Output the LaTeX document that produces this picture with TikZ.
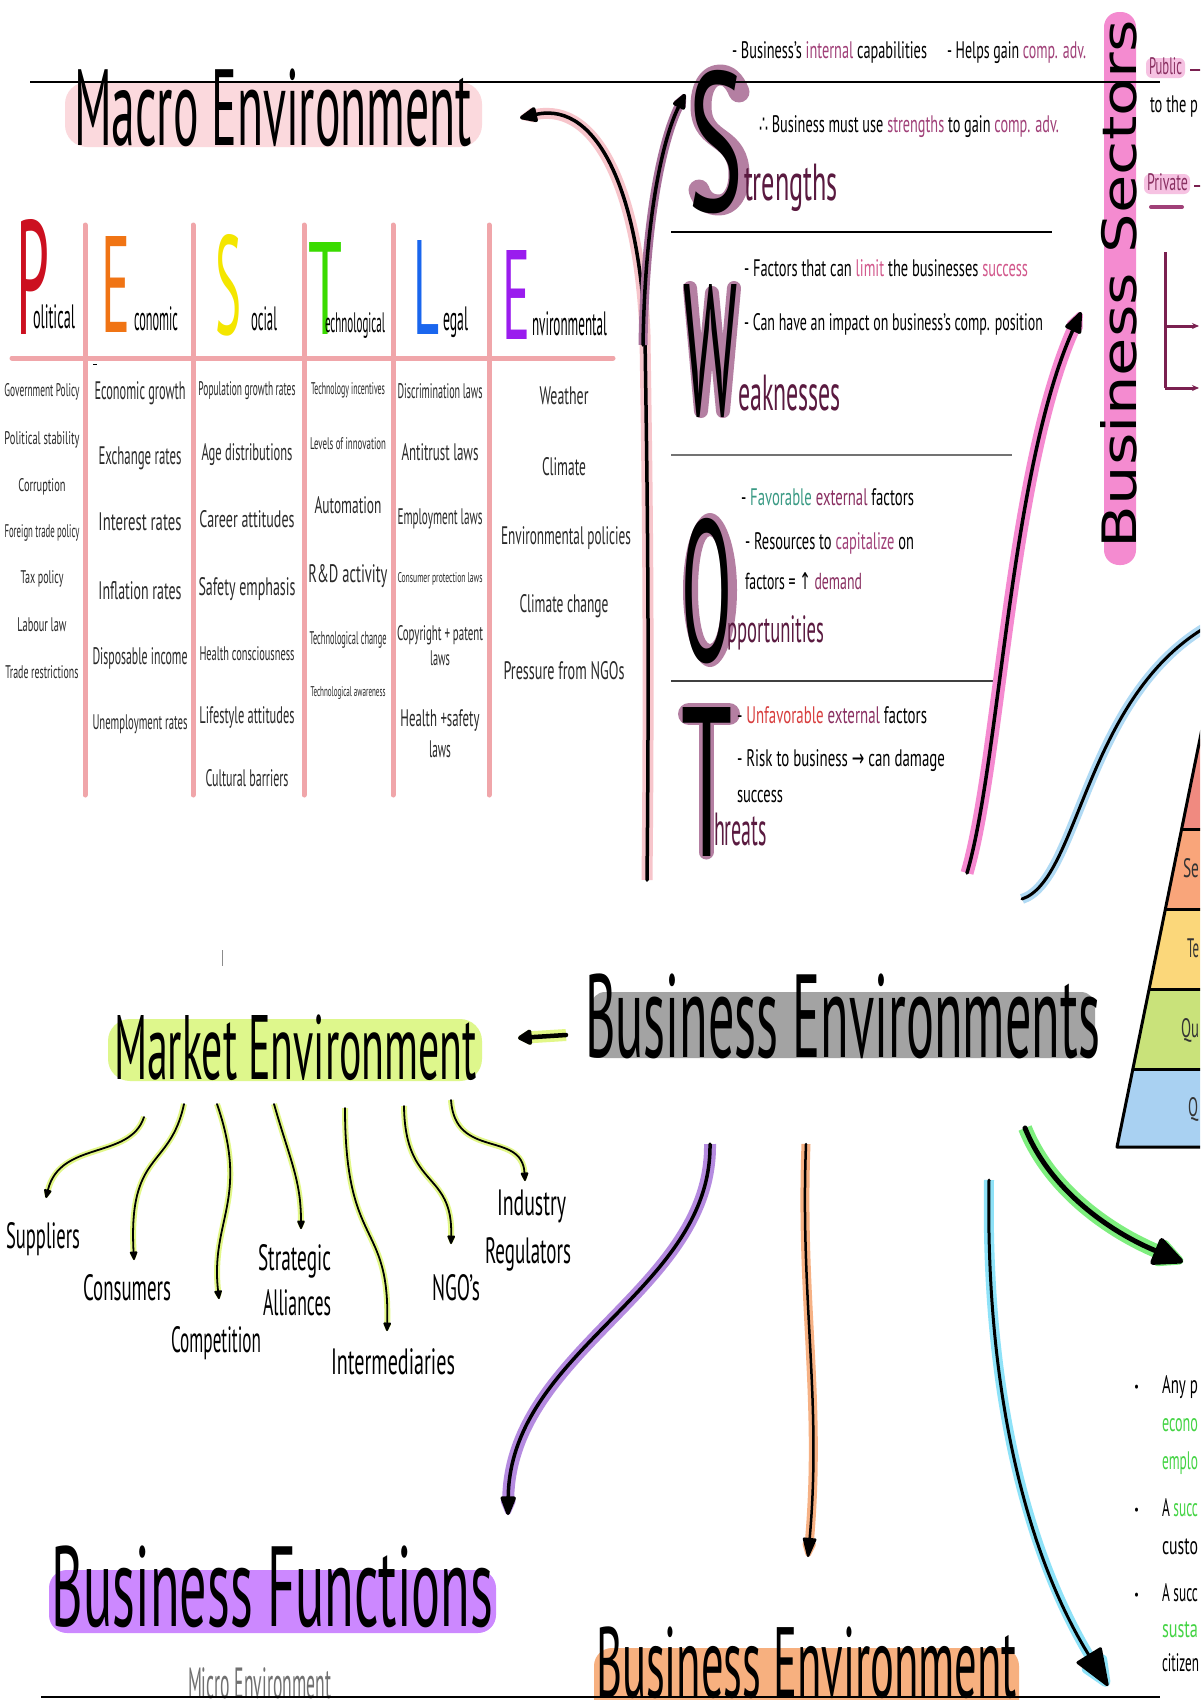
\documentclass[tikz,border=0pt]{standalone}
\usepackage{fontspec}
\usepackage{graphicx}
\setmainfont{PT Sans}
\newfontfamily\geo{DejaVu Sans}
\usetikzlibrary{arrows.meta}
\definecolor{cMacroHL}{HTML}{FBD9DD}
\definecolor{cPest}{HTML}{F0A6AA}
\definecolor{cP}{HTML}{CC1020}
\definecolor{cE}{HTML}{F07414}
\definecolor{cS}{HTML}{F4E600}
\definecolor{cT}{HTML}{3ADB00}
\definecolor{cL}{HTML}{1A66EE}
\definecolor{cV}{HTML}{9A1CEE}
\definecolor{cTxt}{HTML}{2A2A2A}
\definecolor{mauve}{HTML}{B47FA2}
\definecolor{cDark}{HTML}{5A1A40}
\definecolor{cInt}{HTML}{A04078}
\definecolor{cPink}{HTML}{D2588C}
\definecolor{cTeal}{HTML}{3A9A84}
\definecolor{cExt}{HTML}{8A3062}
\definecolor{cRed}{HTML}{D83E3E}
\definecolor{cSect}{HTML}{F48BD0}
\definecolor{cPubHL}{HTML}{F6C2E2}
\definecolor{cTree}{HTML}{7A2050}
\definecolor{cGray}{HTML}{A3A3A3}
\definecolor{cYGHL}{HTML}{DEF78C}
\definecolor{cYG}{HTML}{E2F788}
\definecolor{cPurHL}{HTML}{CC88FF}
\definecolor{cOrHL}{HTML}{F7B07F}
\definecolor{cMicro}{HTML}{707070}
\definecolor{cMacroHalo}{HTML}{F7C5CB}
\definecolor{cSHalo}{HTML}{A8709A}
\definecolor{cPinkHalo}{HTML}{F58AD0}
\definecolor{cBlueHalo}{HTML}{B0DAF4}
\definecolor{cGreenHalo}{HTML}{7EEE7E}
\definecolor{cCyanHalo}{HTML}{8EE2F8}
\definecolor{cOrHalo}{HTML}{F6B184}
\definecolor{cPurHalo}{HTML}{B58BE0}
\definecolor{cGreen}{HTML}{44D444}
\definecolor{pyR}{HTML}{F08A80}
\definecolor{pyO}{HTML}{F9A57A}
\definecolor{pyY}{HTML}{FBD77A}
\definecolor{pyG}{HTML}{C9E27A}
\definecolor{pyB}{HTML}{A9D1F2}
\newcommand\tx[3]{\resizebox{#1pt}{#2pt}{\vphantom{Ah}#3}}
\newcommand\bx[3]{\resizebox{#1pt}{#2pt}{#3}}
\begin{document}
\begin{tikzpicture}[x=1pt,y=-1pt,
  every node/.style={inner sep=0pt,outer sep=0pt},
  bw/.style={anchor=base west, text=black},
  bc/.style={anchor=base, text=cTxt},
  pl/.style={draw=cPest, line width=5pt, line cap=round},
  glow/.style={draw=mauve, line cap=round, line join=round},
  mk/.style={line width=1.8pt, line cap=round, -{Triangle[length=10pt 0,width=8pt 0,round]}, preaction={draw=cYG, line width=6pt}},
  tree/.style={draw=cTree, line width=3pt}]
\useasboundingbox (0,0) rectangle (1200,1700);
\clip (0,0) rectangle (1200,1700);
\fill[white] (0,0) rectangle (1200,1700);

% ---------- highlights ----------
\fill[cMacroHL, rounded corners=22pt] (65,82) rectangle (482,147);
\fill[cSect, rounded corners=15pt] (1104,12) rectangle (1136,565);
\fill[cPubHL, rounded corners=6pt] (1146,58) rectangle (1185,78);
\fill[cPubHL, rounded corners=6pt] (1144,174) rectangle (1190,194);
\fill[cGray, rounded corners=14pt] (591,992) rectangle (1095,1058);
\fill[cYGHL, rounded corners=22pt] (108,1019) rectangle (482,1081);
\fill[cPurHL, rounded corners=18pt] (49,1570) rectangle (496,1633);
\fill[cOrHL, rounded corners=18pt] (594,1648) rectangle (1019,1720);

% ---------- Macro environment ----------
\node[bw] (macro) at (74,145) {\tx{398}{77}{Macro Environment}};

% ---------- PESTLE grid ----------
\draw[pl] (12,358) -- (613,358);
\foreach \x in {85,193,304,393,489} {\draw[pl] (\x,225) -- (\x,795);}
\draw[line width=1pt] (93,364) -- (97,364);

\node[bw, text=cP] (bigP) at (16,334) {\bx{33}{115}{P}};
\node[bw, text=cE] (bigE) at (101,332) {\bx{29}{96}{E}};
\node[bw, text=cS] (bigS) at (215,334) {\bx{26}{100}{S}};
\node[bw, text=cT] (bigT) at (308,334) {\bx{34}{92}{T}};
\node[bw, text=cL] (bigL) at (413,334) {\bx{26}{94}{L}};
\node[bw, text=cV] (bigV) at (502,339) {\bx{28}{89}{E}};
\node[bw] (wP) at (33,328) {\tx{42}{24}{olitical}};
\node[bw] (wE) at (134,330) {\tx{44}{24}{conomic}};
\node[bw] (wS) at (251,330) {\tx{26}{24}{ocial}};
\node[bw] (wT) at (325,332) {\tx{60}{20}{echnological}};
\node[bw] (wL) at (443,330) {\tx{25}{24}{egal}};
\node[bw] (wV) at (532,335) {\tx{75}{24}{nvironmental}};

\node[bc] (p1) at (42,396) {\tx{75}{13}{Government Policy}};
\node[bc] (p2) at (42,444) {\tx{75}{13}{Political stability}};
\node[bc] (p3) at (42,491) {\tx{47}{13}{Corruption}};
\node[bc] (p4) at (42,537) {\tx{75}{13}{Foreign trade policy}};
\node[bc] (p5) at (42,583) {\tx{43}{13}{Tax policy}};
\node[bc] (p6) at (42,631) {\tx{49}{14}{Labour law}};
\node[bc] (p7) at (42,678) {\tx{73}{13}{Trade restrictions}};

\node[bc] (e1) at (140,399) {\tx{91}{18}{Economic growth}};
\node[bc] (e2) at (140,464) {\tx{83}{18}{Exchange rates}};
\node[bc] (e3) at (140,530) {\tx{83}{18}{Interest rates}};
\node[bc] (e4) at (140,599) {\tx{83}{18}{Inflation rates}};
\node[bc] (e5) at (140,664) {\tx{95}{17}{Disposable income}};
\node[bc] (e6) at (140,729) {\tx{95}{15}{Unemployment rates}};

\node[bc] (s1) at (247,395) {\tx{97}{14}{Population growth rates}};
\node[bc] (s2) at (247,460) {\tx{91}{17}{Age distributions}};
\node[bc] (s3) at (247,527) {\tx{95}{17}{Career attitudes}};
\node[bc] (s4) at (247,595) {\tx{97}{18}{Safety emphasis}};
\node[bc] (s5) at (247,660) {\tx{95}{14}{Health consciousness}};
\node[bc] (s6) at (247,723) {\tx{95}{17}{Lifestyle attitudes}};
\node[bc] (s7) at (247,786) {\tx{83}{17}{Cultural barriers}};

\node[bc] (t1) at (348,394) {\tx{74}{12}{Technology incentives}};
\node[bc] (t2) at (348,449) {\tx{76}{12}{Levels of innovation}};
\node[bc] (t3) at (348,513) {\tx{67}{17}{Automation}};
\node[bc] (t4) at (348,582) {\tx{79}{18}{R\&D activity}};
\node[bc] (t5) at (348,644) {\tx{77}{13}{Technological change}};
\node[bc] (t6) at (348,696) {\tx{75}{10}{Technological awareness}};

\node[bc] (l1) at (440,398) {\tx{85}{15}{Discrimination laws}};
\node[bc] (l2) at (440,460) {\tx{77}{17}{Antitrust laws}};
\node[bc] (l3) at (440,524) {\tx{85}{16}{Employment laws}};
\node[bc] (l4) at (440,582) {\tx{85}{10}{Consumer protection laws}};
\node[bc] (l5) at (440,640) {\tx{86}{15}{Copyright + patent}};
\node[bc] (l6) at (440,665) {\tx{20}{15}{laws}};
\node[bc] (l7) at (440,726) {\tx{79}{17}{Health +safety}};
\node[bc] (l8) at (440,757) {\tx{22}{17}{laws}};

\node[bc] (v1) at (564,404) {\tx{49}{18}{Weather}};
\node[bc] (v2) at (564,475) {\tx{44}{18}{Climate}};
\node[bc] (v3) at (566,544) {\tx{130}{18}{Environmental policies}};
\node[bc] (v4) at (564,612) {\tx{89}{18}{Climate change}};
\node[bc] (v5) at (564,679) {\tx{121}{18}{Pressure from NGOs}};

% ---------- SWOT ----------
\node[bw] (sw1) at (732,58) {\tx{195}{17}{- Business's {\color{cInt}internal} capabilities}};
\node[bw] (sw2) at (947,58) {\tx{139}{17}{- Helps gain {\color{cInt}comp. adv.}}};
\node[bw] (sw3) at (759,132) {\tx{300}{17}{{\geo ∴} Business must use {\color{cInt}strengths} to gain {\color{cInt}comp. adv.}}};
% glows behind the big letters
\draw[glow, line width=21pt] (739,92) .. controls (734,80) and (728,75) .. (720,75) .. controls (708,75) and (701,88) .. (701,106) .. controls (701,127) and (712,133) .. (721,140) .. controls (731,147) and (739,156) .. (739,174) .. controls (739,194) and (730,205) .. (719,205) .. controls (709,205) and (702,200) .. (699,190);
\draw[glow, line width=14pt] (690,288) -- (701,411) -- (712,293) -- (723,411) -- (734,288);
\fill[mauve, even odd rule] (710,590) ellipse [x radius=27, y radius=77] (710,590) ellipse [x radius=12, y radius=54];
\draw[glow, line width=22pt] (689,714) -- (729,714);
\draw[glow, line width=15pt] (706,714) -- (706,852);
\node[bw] (bigSw) at (688,211) {\bx{55}{141}{S}};
\node[bw, text=cDark] (swS) at (744,200) {\tx{94}{37}{trengths}};
\draw[line width=2pt] (671,232) -- (1052,232);
\node[bw] (sw4) at (744,276) {\tx{284}{17}{- Factors that can {\color{cPink}limit} the businesses {\color{cPink}success}}};
\node[bw] (sw5) at (744,330) {\tx{299}{17}{- Can have an impact on business's comp. position}};
\node[bw] (bigW) at (683,415) {\bx{54}{131}{W}};
\node[bw, text=cDark] (swW) at (738,410) {\tx{103}{36}{eaknesses}};
\draw[line width=2pt, black!55] (671,455) -- (1012,455);
\node[bw] (sw6) at (741,505) {\tx{173}{17}{- {\color{cTeal}Favorable} {\color{cExt}external} factors}};
\node[bw] (sw7) at (745,549) {\tx{169}{17}{- Resources to {\color{cInt}capitalize} on}};
\node[bw] (sw8) at (745,589) {\tx{117}{17}{factors = {\geo ↑} {\color{cExt}demand}}};
\node[bw] (bigO) at (681,661) {\bx{51}{143}{O}};
\node[bw, text=cDark] (swO) at (727,642) {\tx{97}{27}{pportunities}};
\draw[line width=2pt, black!75] (671,681) -- (999,681);
\node[bw] (sw9) at (737,723) {\tx{190}{17}{- {\color{cRed}Unfavorable} {\color{cExt}external} factors}};
\node[bw] (sw10) at (737,766) {\tx{208}{17}{- Risk to business {\geo →} can damage}};
\node[bw] (sw11) at (737,802) {\tx{46}{17}{success}};
\node[bw] (bigTw) at (681,856) {\bx{51}{149}{T}};
\node[bw, text=cDark] (swT) at (714,845) {\tx{53}{33}{hreats}};

% ---------- Business Sectors ----------
\node[rotate=90, anchor=base west, text=black] (sect) at (1136,548) {\bx{528}{36}{\geo Business Sectors}};
\node[bw, text=cExt] (pub) at (1149,74) {\tx{33}{17}{Public}};
\draw[cTree, line width=2pt] (1190,70) -- (1202,70);
\node[bw] (tothe) at (1150,112) {\tx{48}{17}{to the p}};
\node[bw, text=cExt] (priv) at (1147,190) {\tx{41}{17}{Private}};
\draw[cTree, line width=2pt] (1194,186) -- (1202,186);
\draw[draw=cInt, line width=4pt, line cap=round] (1151,207) -- (1182,207);
\coordinate (trTop) at (1165,252);
\coordinate (trA) at (1165,326);
\coordinate (trB) at (1165,388);
\coordinate (trAe) at (1199,326);
\coordinate (trBe) at (1199,388);
\draw[tree] (trTop) -- (trB);
\draw[tree, -{Stealth[length=7pt 0,width=6pt 0]}] (trA) -- (trAe);
\draw[tree, -{Stealth[length=7pt 0,width=6pt 0]}] (trB) -- (trBe);

% top rule
\draw[line width=2.5pt] (30,82) -- (1160,82);

% ---------- pyramid ----------
\fill[pyR] (1200.1,739) -- (1181.7,829) -- (1205,829) -- (1205,739) -- cycle;
\fill[pyO] (1181.7,829) -- (1165.5,909) -- (1205,909) -- (1205,829) -- cycle;
\fill[pyY] (1165.5,909) -- (1149.2,989) -- (1205,989) -- (1205,909) -- cycle;
\fill[pyG] (1149.2,989) -- (1132.9,1069) -- (1205,1069) -- (1205,989) -- cycle;
\fill[pyB] (1132.9,1069) -- (1117,1147) -- (1205,1147) -- (1205,1069) -- cycle;
\draw[line width=3pt, line join=round] (1204,719) -- (1117,1147) -- (1205,1147);
\foreach \yy/\xx in {829/1181.7,909/1165.5,989/1149.2,1069/1132.9} {\draw[line width=3pt] (\xx,\yy) -- (1205,\yy);}
\node[bw, text=black!80] (py1) at (1183,877) {\tx{16}{19}{Se}};
\node[bw, text=black!80] (py2) at (1187,957) {\tx{12}{19}{Te}};
\node[bw, text=black!80] (py3) at (1181,1037) {\tx{18}{19}{Qu}};
\node[bw, text=black!80] (py4) at (1188,1116) {\tx{10}{19}{Q}};

% ---------- bottom right text ----------
\node[bw] (bb1) at (1134,1391) {\tx{5}{10}{•}};
\node[bw] (br1) at (1162,1393) {\tx{36}{18}{Any p}};
\node[bw, text=cGreen] (br2) at (1162,1431) {\tx{36}{18}{econo}};
\node[bw, text=cGreen] (br3) at (1162,1469) {\tx{36}{18}{emplo}};
\node[bw] (bb2) at (1134,1514) {\tx{5}{10}{•}};
\node[bw] (br4) at (1162,1516) {\tx{36}{18}{A {\color{cGreen}succ}}};
\node[bw] (br5) at (1162,1554) {\tx{36}{18}{custo}};
\node[bw] (bb3) at (1134,1599) {\tx{5}{10}{•}};
\node[bw] (br6) at (1162,1601) {\tx{36}{18}{A succ}};
\node[bw, text=cGreen] (br7) at (1162,1637) {\tx{36}{18}{susta}};
\node[bw] (br8) at (1162,1671) {\tx{37}{18}{citizen}};

% ---------- centre headings ----------
\node[bw] (benv) at (585,1057) {\tx{515}{84}{Business Environments}};
\node[bw] (menv) at (114,1079) {\tx{363}{65}{Market Environment}};
\node[bw] (bfun) at (52,1626) {\tx{441}{81}{Business Functions}};
\node[bw] (benv2) at (596,1697) {\tx{421}{71}{Business Environment}};
\node[bw, text=cMicro] (micro) at (188,1698) {\tx{143}{31}{Micro Environment}};
\draw[line width=2.5pt] (41,1697) -- (1160,1697);
\draw[black!45, line width=1pt] (222,950) -- (222,966);

% ---------- market items ----------
\node[bw] (sup) at (6,1248) {\tx{74}{26}{Suppliers}};
\node[bw] (con) at (83,1300) {\tx{88}{26}{Consumers}};
\node[bw] (comp) at (171,1352) {\tx{90}{26}{Competition}};
\node[bw] (strat) at (258,1270) {\tx{73}{26}{Strategic}};
\node[bw] (alli) at (263,1315) {\tx{68}{26}{Alliances}};
\node[bw] (inter) at (331,1374) {\tx{124}{26}{Intermediaries}};
\node[bw] (ngo) at (432,1300) {\tx{48}{26}{NGO's}};
\node[bw] (ind) at (497,1215) {\tx{69}{26}{Industry}};
\node[bw] (reg) at (485,1263) {\tx{86}{26}{Regulators}};

% ---------- connector coordinates ----------
\coordinate (m1a) at (144,1117); \coordinate (m1b) at (46,1198);
\coordinate (m2a) at (184,1104); \coordinate (m2b) at (134,1260);
\coordinate (m3a) at (217,1104); \coordinate (m3b) at (219,1299);
\coordinate (m4a) at (274,1104); \coordinate (m4b) at (301,1229);
\coordinate (m5a) at (345,1108); \coordinate (m5b) at (387,1331);
\coordinate (m6a) at (404,1106); \coordinate (m6b) at (451,1244);
\coordinate (m7a) at (451,1100); \coordinate (m7b) at (525,1181);

\draw[mk] (m1a) .. controls (130,1160) and (60,1140) .. (m1b);
\draw[mk] (m2a) .. controls (170,1170) and (128,1150) .. (m2b);
\draw[mk] (m3a) .. controls (250,1200) and (210,1220) .. (m3b);
\draw[mk] (m4a) .. controls (290,1160) and (301,1180) .. (m4b);
\draw[mk] (m5a) .. controls (345,1250) and (390,1220) .. (m5b);
\draw[mk] (m6a) .. controls (405,1190) and (453,1170) .. (m6b);
\draw[mk] (m7a) .. controls (455,1160) and (522,1130) .. (m7b);

\coordinate (beA) at (566,1035); \coordinate (beB) at (518,1038);
\draw[line width=4.5pt, line cap=round, -{Triangle[length=16pt 0,width=17pt 0,round]}, preaction={draw=cYG, line width=12pt}] (beA) -- (beB);

% Macro and S arrows
\coordinate (mBot) at (647,880); \coordinate (mJ) at (645,335); \coordinate (mTip) at (520,118);
\draw[line width=3.5pt, line cap=round, -{Triangle[length=20pt 0,width=16pt 0,round]}, preaction={draw=cMacroHalo, line width=11pt}] (mBot) .. controls (650,600) and (646,420) .. (mJ) .. controls (640,200) and (600,100) .. (mTip);
\coordinate (sA) at (643,345); \coordinate (sTip) at (685,94);
\draw[line width=3.5pt, line cap=round, -{Triangle[length=18pt 0,width=14pt 0,round]}, preaction={draw=cSHalo, line width=9pt}] (sA) .. controls (645,220) and (662,140) .. (sTip);

% pink arrow to sectors
\coordinate (pkA) at (967,873); \coordinate (pkB) at (1081,312);
\draw[line width=3.5pt, line cap=round, -{Triangle[length=24pt 0,width=18pt 0,round]}, preaction={draw=cPinkHalo, line width=13pt}] (pkA) .. controls (1000,760) and (1010,470) .. (pkB);

% blue curve
\coordinate (blA) at (1022,899); \coordinate (blB) at (1215,622);
\draw[line width=3pt, line cap=round, preaction={draw=cBlueHalo, line width=10pt}] (blA) .. controls (1080,880) and (1085,690) .. (blB);

% green arrow
\coordinate (grA) at (1025,1128); \coordinate (grB) at (1183,1262);
\draw[line width=5pt, line cap=round, -{Triangle[length=34pt 0,width=30pt 0,round]}, preaction={draw=cGreenHalo, line width=14pt}] (grA) .. controls (1050,1190) and (1110,1232) .. (grB);

% cyan arrow
\coordinate (cyA) at (989,1180); \coordinate (cyB) at (1108,1686);
\draw[line width=3pt, line cap=round, -{Triangle[length=40pt 0,width=30pt 0,round]}, preaction={draw=cCyanHalo, line width=10pt}] (cyA) .. controls (985,1400) and (1030,1560) .. (cyB);

% orange arrow
\coordinate (orA) at (806,1144); \coordinate (orB) at (808,1557);
\draw[line width=2.5pt, line cap=round, -{Triangle[length=22pt 0,width=14pt 0,round]}, preaction={draw=cOrHalo, line width=9pt}] (orA) .. controls (800,1300) and (822,1400) .. (orB);

% purple arrow
\coordinate (puA) at (710,1144); \coordinate (puB) at (508,1515);
\draw[line width=3.5pt, line cap=round, -{Triangle[length=22pt 0,width=16pt 0,round]}, preaction={draw=cPurHalo, line width=12pt}] (puA) .. controls (712,1290) and (510,1350) .. (puB);
\end{tikzpicture}
\end{document}
